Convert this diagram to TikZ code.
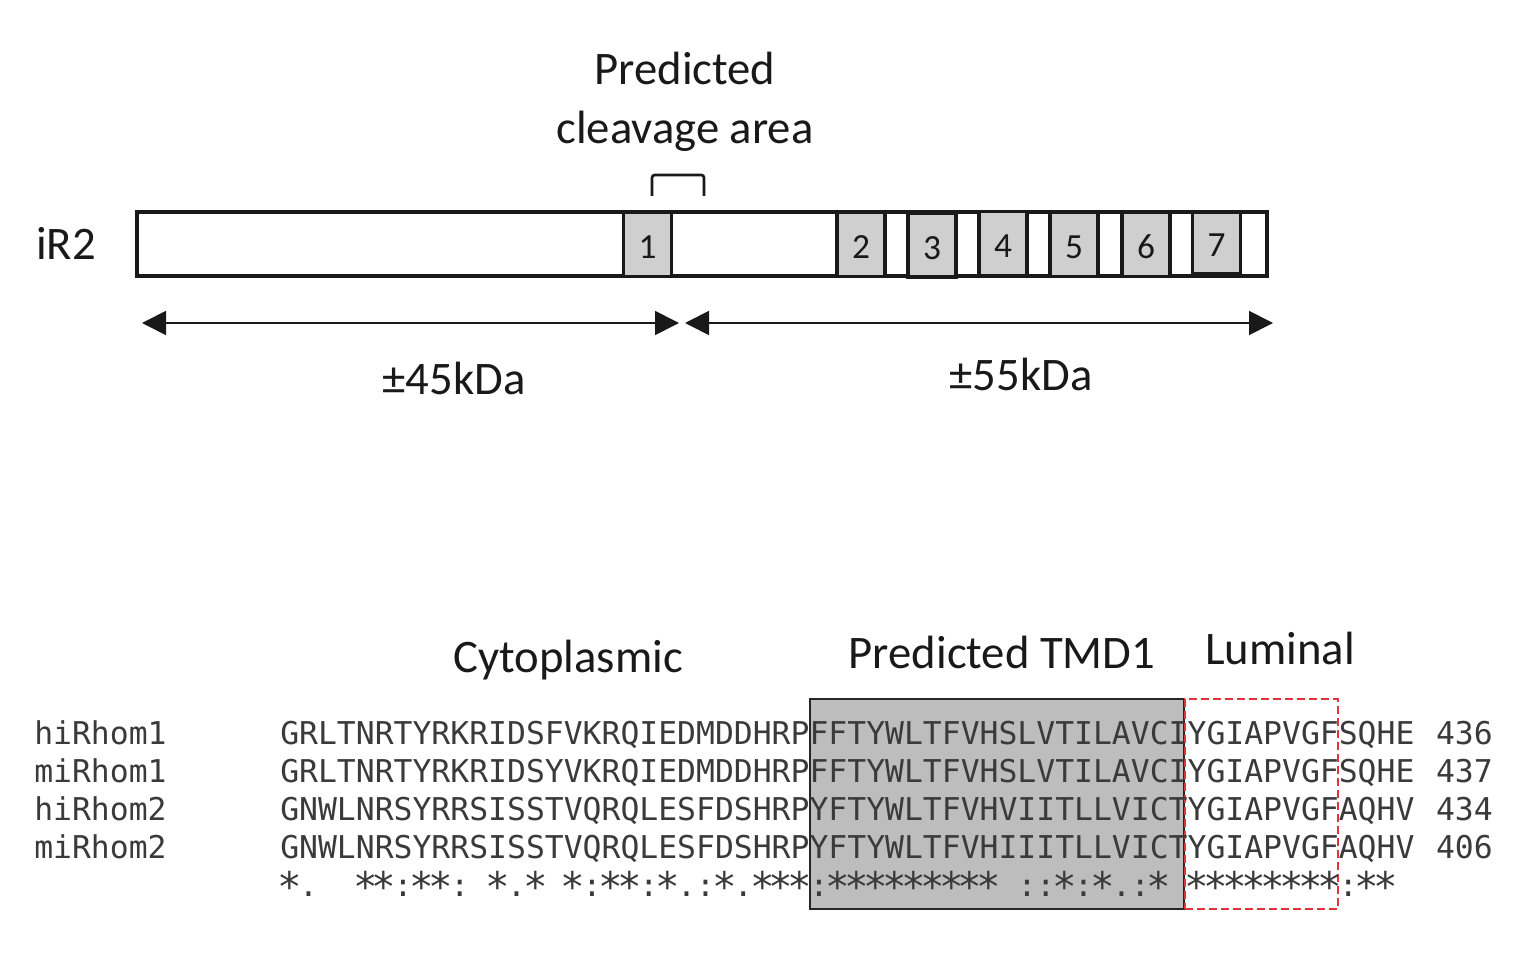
\documentclass[tikz,border=0pt]{standalone}
\usepackage{fontspec}
\usepackage{graphicx}
\setmainfont{Carlito}
\newfontfamily\seqfont{DejaVu Sans Mono}
\usetikzlibrary{arrows.meta}
\definecolor{tmgrey}{HTML}{D0CFCF}
\definecolor{tmdgrey}{HTML}{BDBDBD}
\definecolor{seqcol}{HTML}{3A3A3A}
\definecolor{lumred}{HTML}{E0343C}
\newcommand\sa{\makebox[0.602em]{\raisebox{-4pt}[0pt][0pt]{\scalebox{1.3}{*}}}}
\tikzset{
  x=0.75pt,y=-0.75pt,
  label text/.style={font=\fontsize{35}{44.25}\selectfont,align=center,inner sep=0pt,text=black!90},
  barbox/.style={draw=black!90,line width=2.45pt,fill=white,inner sep=0pt,minimum width=847.5pt,minimum height=48pt},
  tmbox/.style={draw=black!90,line width=2.45pt,fill=tmgrey,inner sep=0pt,minimum width=36pt,minimum height=48pt,font=\fontsize{26.5}{28}\selectfont,text=black!90,text height=21.5pt,text depth=0pt},
  dimarrow/.style={line width=1.3pt,black!90,{Triangle[length=18pt,width=18pt]}-{Triangle[length=18pt,width=18pt]}},
  seqline/.style={anchor=base west,inner sep=0pt,font=\seqfont\fontsize{23.55}{28}\selectfont,text=seqcol},
}
\begin{document}
\begin{tikzpicture}
\useasboundingbox (0,0) rectangle (1535,973);
% gene schematic
\node[barbox] (bar) at (702,244) {};
\node[tmbox] (tm1) at (647.5,244.5) {1};
\node[tmbox] (tm2) at (861,244.5) {2};
\node[tmbox] (tm3) at (932,245) {3};
\node[tmbox] (tm4) at (1003,243.5) {4};
\node[tmbox] (tm5) at (1074,244.5) {5};
\node[tmbox] (tm6) at (1146,244.5) {6};
\node[tmbox,minimum height=46.5pt,text height=20pt] (tm7) at (1216.5,243) {7};
\node[label text] (iR) at (66,243) {iR2};
\node[label text] (cleave) at (685,102) {Predicted\\cleavage area};
\coordinate (brA) at (652,196);
\coordinate (brB) at (704,196);
\draw[line width=2pt,black!90,rounded corners=2pt] (brA) -- (652,175) -- (704,175) -- (brB);
\coordinate (a1) at (142,323);
\coordinate (a2) at (679,323);
\coordinate (a3) at (685,323);
\coordinate (a4) at (1273,323);
\draw[dimarrow] (a1) -- (a2);
\draw[dimarrow] (a3) -- (a4);
\node[label text] (kd45) at (454,378) {±45kDa};
\node[label text] (kd55) at (1021,374) {±55kDa};
% alignment
\node[label text] (cyto) at (568,660) {Cytoplasmic};
\node[label text] (tmd) at (1002,652) {Predicted TMD1};
\node[label text] (lum) at (1280,648) {Luminal};
\node[draw=black!85,line width=1.4pt,fill=tmdgrey,inner sep=0pt,minimum width=280.5pt,minimum height=157.5pt] (tmdbox) at (997,804) {};
\node[draw=lumred,dash pattern=on 6pt off 3pt,line width=1.3pt,inner sep=0pt,minimum width=114.75pt,minimum height=157.5pt] (lumbox) at (1261.5,804) {};
\node[seqline] (n1) at (34,744) {hiRhom1};
\node[seqline] (n2) at (34,782) {miRhom1};
\node[seqline] (n3) at (34,820) {hiRhom2};
\node[seqline] (n4) at (34,858) {miRhom2};
\node[seqline] (s1) at (280,744) {GRLTNRTYRKRIDSFVKRQIEDMDDHRPFFTYWLTFVHSLVTILAVCIYGIAPVGFSQHE\kern2pt{} 436};
\node[seqline] (s2) at (280,782) {GRLTNRTYRKRIDSYVKRQIEDMDDHRPFFTYWLTFVHSLVTILAVCIYGIAPVGFSQHE\kern2pt{} 437};
\node[seqline] (s3) at (280,820) {GNWLNRSYRRSISSTVQRQLESFDSHRPYFTYWLTFVHVIITLLVICTYGIAPVGFAQHV\kern2pt{} 434};
\node[seqline] (s4) at (280,858) {GNWLNRSYRRSISSTVQRQLESFDSHRPYFTYWLTFVHIIITLLVICTYGIAPVGFAQHV\kern2pt{} 406};
\node[seqline] (s5) at (280,896) {\sa.~~\sa\sa:\sa\sa:~\sa.\sa~\sa:\sa\sa:\sa.:\sa.\sa\sa\sa:\sa\sa\sa\sa\sa\sa\sa\sa\sa~::\sa:\sa.:\sa~\sa\sa\sa\sa\sa\sa\sa\sa:\sa\sa};
\end{tikzpicture}
\end{document}
